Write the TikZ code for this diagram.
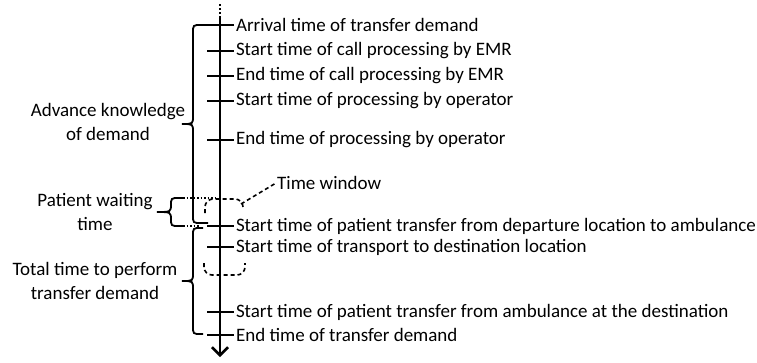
\documentclass[tikz,border=0pt]{standalone}
\usepackage{fontspec}
\setmainfont{Carlito}
\usetikzlibrary{arrows.meta}
% curly brace opening to the right: [style](end x:spine x:tip x:top y:bottom y)
\def\leftbrace[#1](#2:#3:#4:#5:#6){\draw[#1] (#2,#5) -- ({#3+8},#5) .. controls (#3,#5) .. (#3,{#5+8}) -- (#3,{(#5+#6)/2-8}) .. controls (#3,{(#5+#6)/2}) .. (#4,{(#5+#6)/2}) .. controls (#3,{(#5+#6)/2}) .. (#3,{(#5+#6)/2+8}) -- (#3,{#6-8}) .. controls (#3,#6) .. ({#3+8},#6) -- (#2,#6);}

\begin{document}
\begin{tikzpicture}[x=1pt, y=-1pt, font=\fontsize{19}{24}\selectfont,
	tick/.style={line width=2pt},
	lbl/.style={anchor=west, inner sep=1pt},
	side/.style={align=center, inner sep=1pt},
	bracket/.style={line width=1.8pt},
	window/.style={line width=1.6pt, dash pattern=on 4pt off 3pt}]
	%%%%% START %%%%%
	
	\useasboundingbox (0,0) rectangle (757,362);
	
	% time axis
	\coordinate (top) at (220,17);
	\coordinate (bot) at (220,357);
	\draw[line width=2.5pt, dash pattern=on 2pt off 2pt] (220,4) -- (top);
	\draw[line width=2.5pt, -{Straight Barb[length=8pt, width=16pt]}] (top) -- (bot);
	
	% events on the axis
	\foreach \n/\y/\txt in {1/25/Arrival time of transfer demand,
		2/51/Start time of call processing by EMR,
		3/76/End time of call processing by EMR,
		4/101/Start time of processing by operator,
		5/140/End time of processing by operator,
		6/226/Start time of patient transfer from departure location to ambulance,
		7/247/Start time of transport to destination location,
		8/312/Start time of patient transfer from ambulance at the destination,
		9/335/End time of transfer demand}
	{
		\coordinate (t\n) at (220,\y);
		\draw[tick] ([xshift=-13pt]t\n) -- ([xshift=14pt]t\n) node[lbl] (lab\n) {\txt};
	}
	
	% time window
	\draw[window, rounded corners=8pt] (205,213) -- (205,199) -- (243,199) -- (243,207);
	\draw[window, rounded corners=8pt] (204,263) -- (204,275) -- (245,275) -- (245,263);
	\coordinate (tw) at (241,204);
	\node[lbl] (twlbl) at (276,183) {Time window};
	\draw[window] (tw) -- (twlbl.west);
	
	% braces
	\leftbrace[bracket](208:193:182:25:223)
	\leftbrace[bracket](203:193:182:228:334)
	\leftbrace[bracket](183:171:157:198:226)
	\draw[line width=1.4pt, dash pattern=on 1.5pt off 2pt] (183,198) -- (216,198);
	\draw[line width=1.4pt, dash pattern=on 1.5pt off 2pt] (183,226) -- (200,226);
	
	\node[side] (adv) at (108,122) {Advance knowledge\\of demand};
	\node[side] (wait) at (95,212) {Patient waiting\\time};
	\node[side] (total) at (95,281) {Total time to perform\\transfer demand};
	
	%%%%% END %%%%%
\end{tikzpicture}
\end{document}
